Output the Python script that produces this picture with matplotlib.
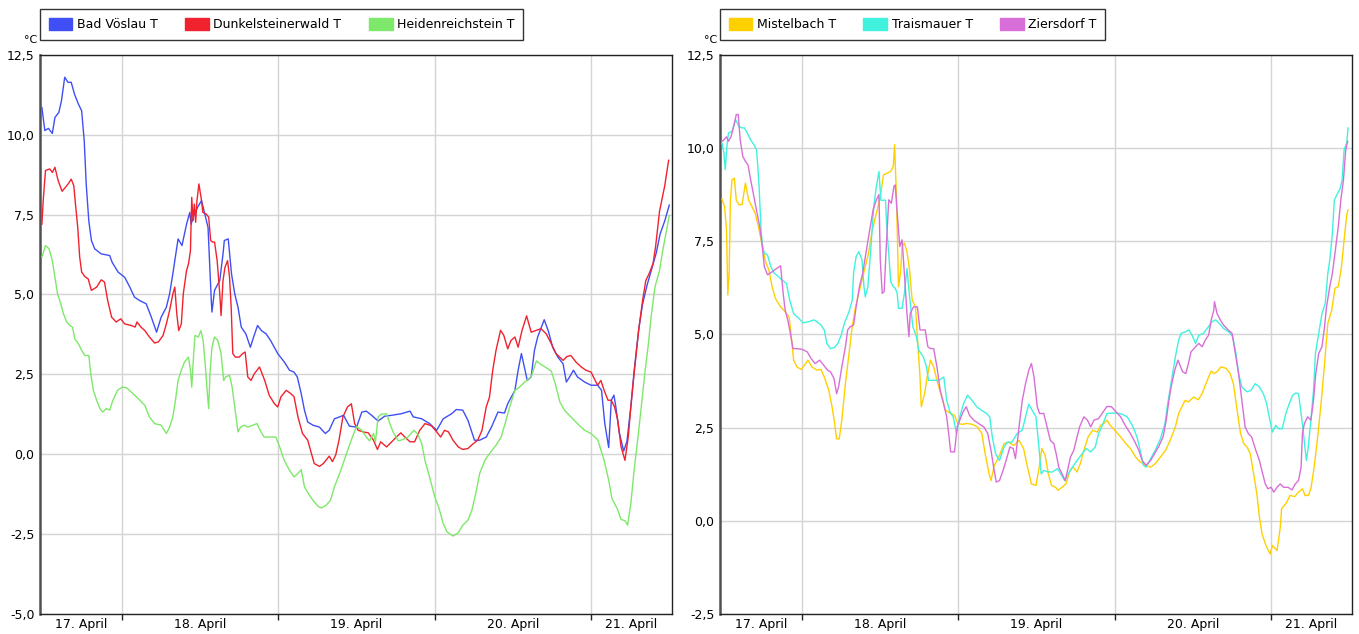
import matplotlib
matplotlib.use('Agg')
import matplotlib.pyplot as plt
from matplotlib.patches import Patch
from matplotlib.ticker import FixedLocator, FuncFormatter

# Stunden ab 17. April 00:00, Temperatur in °C
voeslau_h = [11.7, 12.15, 12.7, 13.3, 13.7, 14.3, 14.7, 15.2, 15.7, 16.2, 16.7, 17.3, 17.8, 18.2, 18.5,
             18.9, 19.3, 19.8, 20.8, 22.1, 22.5, 23.4, 24.4, 25.2, 25.9, 26.7, 27.7, 28.5, 29.3, 30.0,
             30.8, 31.3, 31.8, 32.6, 33.2, 33.9, 34.4, 34.6, 35.1, 35.6, 36.2, 36.7, 37.2, 37.7, 37.8,
             38.2, 39.0, 39.5, 39.7, 40.3, 40.8, 41.3, 41.8, 42.3, 43.0, 43.7, 44.2, 44.8, 45.4, 46.1,
             46.8, 47.9, 48.9, 49.7, 50.4, 50.9, 51.5, 52.0, 52.5, 53.3, 54.3, 55.2, 55.8, 56.6, 57.4,
             58.0, 58.9, 60.0, 60.8, 61.5, 62.3, 63.3, 64.3, 65.4, 66.9, 68.2, 68.7, 70.0, 71.2, 72.3,
             73.3, 74.6, 75.3, 76.3, 77.1, 78.1, 78.9, 79.9, 80.7, 81.7, 82.7, 83.2, 84.3, 84.8, 85.3,
             86.2, 86.8, 87.3, 87.8, 88.8, 89.4, 90.1, 90.9, 91.7, 92.2, 92.7, 93.3, 93.9, 95.0, 96.0,
             97.0, 97.6, 98.1, 98.7, 99.1, 99.5, 99.8, 100.3, 101.0, 101.5, 102.1, 102.6, 103.3, 103.9,
             104.6, 105.3, 106.0, 106.6, 107.3, 108.0]
voeslau_t = [10.85, 10.13, 10.2, 10.04, 10.54, 10.7, 11.06, 11.8, 11.64, 11.64, 11.27, 10.96, 10.75, 9.8, 8.46,
             7.3, 6.69, 6.43, 6.27, 6.22, 6.0, 5.7, 5.54, 5.23, 4.92, 4.81, 4.71, 4.29, 3.82, 4.29,
             4.6, 5.02, 5.65, 6.74, 6.53, 7.2, 7.57, 7.2, 7.52, 7.73, 7.94, 7.52, 7.1, 4.81, 4.45,
             5.13, 5.44, 6.27, 6.69, 6.74, 5.65, 5.02, 4.6, 3.98, 3.77, 3.35, 3.67, 4.03, 3.87, 3.77,
             3.56, 3.15, 2.89, 2.63, 2.57, 2.42, 1.9, 1.38, 1.01, 0.91, 0.85, 0.65, 0.75, 1.11, 1.17,
             1.22, 0.88, 0.85, 1.32, 1.35, 1.22, 1.04, 1.19, 1.22, 1.27, 1.35, 1.17, 1.11, 0.96, 0.75,
             1.11, 1.27, 1.4, 1.38, 1.06, 0.44, 0.44, 0.54, 0.85, 1.32, 1.29, 1.58, 2.0, 2.63, 3.15,
             2.31, 2.42, 3.25, 3.67, 4.21, 3.88, 3.35, 3.04, 2.83, 2.26, 2.42, 2.63, 2.42, 2.26, 2.16,
             2.16, 2.0, 0.96, 0.21, 1.69, 1.85, 1.48, 0.7, 0.1, 0.4, 1.5, 2.6, 3.9, 4.7,
             5.3, 5.8, 6.3, 6.9, 7.3, 7.8]

dunkelstein_h = [11.7, 11.9, 12.25, 12.9, 13.3, 13.7, 14.2, 14.8, 15.3, 15.8, 16.2, 16.6, 16.85, 17.2, 17.5,
                 17.8, 18.3, 18.8, 19.3, 20.1, 20.8, 21.3, 21.8, 22.4, 23.1, 23.8, 24.4, 25.4, 26.0, 26.3,
                 26.9, 27.5, 28.2, 29.0, 29.6, 30.3, 30.8, 31.3, 31.8, 32.1, 32.4, 32.7, 33.1, 33.4, 33.9,
                 34.2, 34.5, 34.7, 34.9, 35.1, 35.3, 35.5, 35.8, 36.2, 36.4, 36.9, 37.3, 37.6, 37.9, 38.2,
                 38.6, 39.0, 39.2, 39.5, 39.8, 40.2, 40.5, 40.75, 41.0, 41.4, 42.0, 42.5, 42.9, 43.3, 43.8,
                 44.3, 45.1, 45.9, 46.6, 47.4, 47.9, 48.4, 49.2, 49.9, 50.4, 51.0, 51.7, 52.5, 53.0, 53.5,
                 54.3, 54.9, 55.8, 56.3, 56.8, 57.3, 57.9, 58.6, 59.2, 59.7, 60.25, 61.0, 61.8, 62.6, 63.2,
                 63.7, 64.6, 65.4, 66.1, 66.8, 67.4, 68.2, 68.9, 69.7, 70.5, 71.5, 72.3, 72.9, 73.5, 74.1,
                 74.8, 75.6, 76.3, 77.1, 77.9, 78.6, 79.25, 79.9, 80.4, 80.9, 81.4, 82.1, 82.6, 83.2, 83.7,
                 84.3, 84.8, 85.4, 86.1, 86.8, 87.6, 88.3, 89.1, 89.9, 90.6, 91.7, 92.3, 92.9, 93.7, 94.5,
                 95.2, 96.0, 96.5, 97.0, 97.5, 98.0, 98.6, 99.1, 99.6, 100.1, 100.6, 101.2, 101.7, 102.1,
                 102.6, 103.3, 103.9, 104.4, 104.9, 105.5, 105.9, 106.5, 107.3, 107.9]
dunkelstein_t = [7.2, 7.94, 8.88, 8.93, 8.82, 8.98, 8.56, 8.23, 8.35, 8.48, 8.61, 8.4, 7.83, 7.1, 6.17,
                 5.7, 5.56, 5.49, 5.13, 5.23, 5.46, 5.39, 4.81, 4.29, 4.14, 4.24, 4.08, 4.03, 3.98, 4.14,
                 3.98, 3.87, 3.67, 3.48, 3.52, 3.72, 4.08, 4.5, 5.02, 5.23, 4.4, 3.87, 4.08, 5.02, 5.75,
                 5.96, 6.37, 8.04, 7.31, 7.83, 7.26, 7.94, 8.46, 7.94, 7.57, 7.52, 7.42, 6.69, 6.64, 6.64,
                 6.06, 5.02, 4.34, 5.44, 5.85, 6.06, 5.54, 4.6, 3.15, 3.04, 3.04, 3.15, 3.2, 2.42, 2.31,
                 2.52, 2.73, 2.31, 1.84, 1.58, 1.48, 1.8, 2.0, 1.9, 1.8, 1.17, 0.65, 0.44, 0.07, -0.29,
                 -0.38, -0.29, -0.06, -0.23, -0.02, 0.44, 1.17, 1.48, 1.58, 0.96, 0.75, 0.7, 0.67, 0.44, 0.15,
                 0.39, 0.23, 0.39, 0.54, 0.67, 0.54, 0.39, 0.39, 0.75, 0.96, 0.89, 0.7, 0.54, 0.75, 0.7,
                 0.44, 0.23, 0.15, 0.18, 0.33, 0.44, 0.75, 1.48, 1.79, 2.63, 3.25, 3.88, 3.72, 3.3, 3.56,
                 3.67, 3.35, 3.88, 4.33, 3.82, 3.88, 3.93, 3.77, 3.46, 3.15, 2.94, 3.06, 3.09, 2.88, 2.73,
                 2.63, 2.57, 2.36, 2.16, 2.31, 2.0, 1.69, 1.69, 1.48, 1.06, 0.23, -0.19, 0.54, 1.48,
                 2.52, 3.88, 4.81, 5.44, 5.65, 5.96, 6.5, 7.6, 8.4, 9.2]

heidenreich_h = [11.7, 12.25, 12.8, 13.3, 13.7, 14.1, 14.6, 15.0, 15.5, 16.0, 16.4, 16.75, 17.3, 17.8, 18.3,
                 18.9, 19.2, 19.6, 20.1, 20.6, 21.0, 21.6, 22.1, 22.6, 23.3, 24.0, 24.7, 25.4, 26.5, 27.5,
                 28.2, 29.0, 30.0, 30.8, 31.3, 31.8, 32.2, 32.6, 33.1, 33.6, 34.2, 34.5, 34.7, 35.0, 35.2,
                 35.7, 36.1, 36.45, 36.8, 37.1, 37.3, 37.5, 37.8, 38.2, 38.7, 39.2, 39.6, 39.9, 40.5, 40.9,
                 41.3, 41.8, 42.2, 42.8, 43.3, 44.1, 44.7, 45.2, 45.8, 46.6, 47.6, 48.2, 48.9, 49.7, 50.4,
                 51.0, 51.5, 52.0, 52.6, 53.3, 54.1, 54.6, 55.3, 56.0, 56.6, 57.4, 58.1, 58.9, 59.4, 60.0,
                 60.8, 61.5, 62.0, 62.6, 62.9, 63.3, 63.8, 64.6, 65.1, 65.6, 66.4, 67.1, 67.9, 68.8, 69.4,
                 70.0, 70.5, 71.2, 72.0, 72.6, 73.3, 73.9, 74.8, 75.6, 76.3, 77.1, 77.7, 78.4, 78.9, 79.7,
                 80.4, 81.4, 82.2, 82.8, 83.5, 84.3, 85.0, 85.8, 86.8, 87.6, 88.3, 89.1, 89.9, 90.5, 91.2,
                 91.9, 92.9, 94.0, 95.0, 96.0, 97.0, 98.0, 98.7, 99.2, 100.0, 100.6, 101.2, 101.6, 102.1,
                 102.6, 103.2, 103.8, 104.3, 104.8, 105.2, 105.8, 106.5, 107.0, 108.0]
heidenreich_t = [6.17, 6.53, 6.43, 6.06, 5.54, 5.02, 4.71, 4.4, 4.14, 4.03, 3.98, 3.61, 3.46, 3.25, 3.09,
                 3.09, 2.52, 2.0, 1.69, 1.43, 1.32, 1.43, 1.38, 1.69, 2.0, 2.1, 2.08, 1.95, 1.74, 1.53,
                 1.17, 0.96, 0.91, 0.65, 0.85, 1.17, 1.69, 2.31, 2.63, 2.89, 3.04, 2.63, 2.1, 3.15, 3.72,
                 3.67, 3.87, 3.56, 2.73, 1.9, 1.43, 2.52, 3.35, 3.67, 3.56, 3.15, 2.31, 2.42, 2.47, 2.1,
                 1.48, 0.7, 0.85, 0.91, 0.85, 0.91, 0.96, 0.75, 0.54, 0.54, 0.54, 0.23, -0.19, -0.5, -0.71,
                 -0.6, -0.48, -1.02, -1.23, -1.44, -1.63, -1.68, -1.6, -1.44, -1.02, -0.6, -0.19, 0.28, 0.56, 0.87,
                 0.75, 0.54, 0.42, 0.65, 0.39, 1.17, 1.25, 1.27, 0.96, 0.7, 0.42, 0.46, 0.54, 0.75, 0.63,
                 0.33, -0.19, -0.71, -1.33, -1.65, -2.17, -2.43, -2.56, -2.46, -2.22, -2.06, -1.75, -1.13, -0.6, -0.19,
                 0.02, 0.28, 0.54, 0.96, 1.48, 2.0, 2.1, 2.26, 2.42, 2.92, 2.81, 2.71, 2.6, 2.21, 1.64,
                 1.38, 1.17, 0.94, 0.75, 0.65, 0.46, -0.19, -0.81, -1.39, -1.7, -2.04, -2.08, -2.22, -1.54,
                 -0.5, 0.54, 1.69, 2.63, 3.46, 4.29, 5.23, 5.75, 6.38, 7.47]

mistelbach_h = [11.7, 12.1, 12.4, 12.6, 12.8, 13.0, 13.25, 13.6, 13.9, 14.3, 14.8, 15.3, 15.8, 16.3, 16.8,
                17.3, 17.9, 18.4, 18.9, 19.4, 19.9, 20.7, 21.4, 22.0, 22.3, 22.7, 23.2, 23.85, 24.4, 24.9,
                25.5, 26.3, 26.9, 27.4, 28.1, 28.6, 29.0, 29.3, 29.7, 30.1, 30.65, 31.2, 31.7, 32.2, 32.7,
                33.2, 33.7, 34.2, 34.7, 35.4, 36.0, 36.5, 37.1, 37.6, 38.0, 38.2, 38.5, 38.8, 39.1, 39.35,
                39.7, 40.1, 40.5, 40.9, 41.4, 41.8, 42.1, 42.3, 42.8, 43.2, 43.7, 44.2, 44.7, 45.3, 46.0,
                46.8, 47.4, 47.9, 48.6, 49.3, 50.1, 50.9, 51.6, 52.1, 52.7, 53.0, 53.5, 54.2, 55.0, 55.7,
                56.5, 57.3, 58.0, 58.6, 59.2, 59.9, 60.4, 60.8, 61.3, 61.8, 62.3, 62.9, 63.3, 63.9, 64.5,
                65.1, 65.6, 66.2, 66.7, 67.25, 67.9, 68.6, 69.3, 69.8, 70.3, 70.8, 71.3, 72.0, 72.9, 73.7,
                74.4, 75.2, 75.9, 76.7, 77.5, 78.2, 79.0, 79.8, 80.5, 81.3, 81.8, 82.3, 82.8, 83.3, 84.1,
                84.8, 85.4, 85.9, 86.4, 86.8, 87.2, 87.7, 88.3, 89.1, 89.7, 90.2, 90.7, 91.3, 91.8, 92.3,
                92.8, 93.3, 93.8, 94.2, 94.6, 95.2, 95.85, 96.2, 96.9, 97.4, 97.6, 98.4, 98.9, 99.6, 100.2,
                100.8, 101.2, 101.7, 102.1, 102.6, 103.2, 103.7, 104.2, 104.7, 105.3, 105.8, 106.3, 106.8,
                107.2, 107.6, 107.8]
mistelbach_t = [8.63, 8.43, 7.8, 6.06, 6.64, 8.6, 9.15, 9.19, 8.6, 8.48, 8.48, 9.06, 8.6, 8.43, 8.25,
                7.89, 7.36, 6.95, 6.73, 6.28, 5.97, 5.74, 5.61, 5.47, 5.03, 4.31, 4.13, 4.06, 4.18, 4.31,
                4.13, 4.04, 4.06, 3.86, 3.5, 3.06, 2.61, 2.2, 2.2, 2.7, 3.68, 4.49, 5.21, 5.74, 6.1,
                6.46, 6.82, 7.18, 7.72, 8.25, 8.7, 9.28, 9.33, 9.37, 9.51, 10.09, 8.6, 6.28, 6.64, 7.36,
                7.45, 7.22, 6.73, 5.92, 5.74, 4.67, 3.86, 3.06, 3.41, 3.86, 4.31, 4.13, 3.77, 3.41, 2.97,
                2.88, 2.83, 2.61, 2.59, 2.61, 2.59, 2.52, 2.34, 1.8, 1.26, 1.08, 1.49, 1.71, 2.07, 2.11,
                2.02, 2.16, 1.94, 1.44, 0.99, 0.95, 1.44, 1.94, 1.76, 1.26, 0.95, 0.9, 0.82, 0.9, 0.99,
                1.35, 1.44, 1.31, 1.53, 1.89, 2.25, 2.43, 2.38, 2.56, 2.61, 2.7, 2.56, 2.43, 2.25, 2.07,
                1.94, 1.71, 1.58, 1.49, 1.44, 1.53, 1.71, 1.89, 2.16, 2.52, 2.88, 3.06, 3.23, 3.19, 3.32,
                3.25, 3.41, 3.64, 3.86, 4.02, 3.95, 4.0, 4.13, 4.09, 3.95, 3.68, 3.06, 2.34, 2.07, 1.98,
                1.8, 1.26, 0.73, 0.1, -0.35, -0.66, -0.89, -0.66, -0.8, -0.18, 0.32, 0.5, 0.68, 0.65, 0.77,
                0.86, 0.68, 0.68, 0.86, 1.44, 2.34, 3.23, 4.22, 5.3, 5.65, 6.24, 6.28, 6.82,
                7.54, 8.21, 8.34]

traismauer_h = [11.7, 12.0, 12.2, 12.5, 12.7, 13.25, 13.8, 14.3, 14.8, 15.15, 15.6, 16.1, 16.6, 17.0, 17.2,
                17.4, 17.7, 17.95, 18.2, 18.7, 19.2, 19.75, 20.4, 20.9, 21.6, 22.1, 22.7, 23.5, 24.15, 25.0,
                25.8, 26.3, 26.9, 27.4, 27.8, 28.35, 28.96, 29.5, 30.0, 30.5, 31.2, 31.7, 31.9, 32.3, 32.7,
                33.2, 33.5, 33.7, 34.1, 34.5, 35.0, 35.4, 35.8, 36.1, 36.5, 36.8, 37.05, 37.3, 37.6, 38.0,
                38.3, 38.6, 38.8, 39.35, 39.7, 40.1, 40.5, 41.0, 41.55, 41.9, 42.6, 43.1, 43.4, 44.2, 45.0,
                45.75, 46.2, 46.7, 47.2, 47.7, 48.2, 48.8, 49.4, 50.1, 50.8, 51.5, 52.3, 52.8, 53.2, 53.7,
                54.3, 55.0, 55.5, 56.2, 57.0, 57.8, 58.3, 58.8, 59.3, 59.9, 60.4, 60.7, 61.1, 61.8, 62.4,
                63.2, 63.7, 64.3, 64.85, 65.5, 66.2, 67.0, 67.6, 68.3, 69.0, 69.5, 70.2, 70.8, 71.6, 72.4,
                73.1, 73.9, 74.7, 75.4, 75.9, 76.4, 76.8, 77.5, 78.2, 79.0, 79.7, 80.2, 80.7, 81.3, 81.8,
                82.2, 82.8, 83.4, 83.85, 84.4, 84.9, 85.6, 86.4, 86.9, 87.5, 88.0, 88.7, 89.5, 90.1, 90.6,
                91.0, 91.5, 92.3, 92.9, 93.55, 94.2, 94.8, 95.3, 95.7, 96.2, 96.7, 97.2, 97.7, 98.25, 98.8,
                99.3, 99.8, 100.2, 100.6, 100.96, 101.4, 101.7, 102.1, 102.5, 102.8, 103.3, 103.8, 104.3,
                104.7, 105.0, 105.4, 105.7, 106.1, 106.6, 106.9, 107.2, 107.6, 107.8]
traismauer_t = [10.13, 9.87, 9.42, 10.13, 10.4, 10.45, 10.76, 10.58, 10.54, 10.54, 10.4, 10.22, 10.09, 9.96, 9.51,
                8.97, 7.8, 7.36, 7.18, 7.13, 6.82, 6.64, 6.55, 6.46, 6.37, 5.92, 5.56, 5.43, 5.31, 5.34,
                5.39, 5.34, 5.25, 5.12, 4.76, 4.62, 4.65, 4.76, 4.98, 5.3, 5.61, 5.92, 6.64, 7.09, 7.22,
                7.0, 6.28, 6.01, 6.28, 7.18, 8.43, 8.97, 9.37, 8.6, 8.6, 8.6, 7.72, 7.18, 6.42, 6.28,
                6.24, 6.1, 5.7, 5.7, 6.1, 6.77, 6.01, 5.21, 4.94, 4.58, 4.4, 4.13, 3.77, 3.77, 3.77,
                3.86, 3.23, 2.92, 2.79, 2.34, 2.79, 3.15, 3.37, 3.23, 3.06, 2.97, 2.88, 2.79, 2.25, 1.8,
                1.62, 1.98, 2.11, 2.11, 2.34, 2.43, 2.79, 3.13, 2.97, 2.79, 1.89, 1.26, 1.35, 1.31, 1.31,
                1.4, 1.26, 1.08, 1.26, 1.44, 1.62, 1.8, 1.94, 1.85, 1.98, 2.34, 2.61, 2.88, 2.89, 2.89,
                2.86, 2.79, 2.56, 2.25, 1.89, 1.49, 1.44, 1.67, 1.89, 2.2, 2.61, 3.23, 3.77, 4.4, 4.85,
                5.03, 5.07, 5.12, 4.98, 4.76, 4.98, 5.03, 5.21, 5.34, 5.39, 5.3, 5.16, 5.07, 4.94, 4.49,
                3.95, 3.59, 3.46, 3.5, 3.68, 3.59, 3.41, 3.15, 2.79, 2.38, 2.56, 2.47, 2.47, 2.88, 3.15,
                3.37, 3.43, 3.41, 2.88, 2.34, 1.62, 1.98, 2.7, 3.5, 4.49, 5.03, 5.56, 5.83,
                6.64, 7.0, 7.72, 8.61, 8.75, 8.92, 9.15, 9.96, 10.13, 10.54]

ziersdorf_h = [11.7, 12.0, 12.4, 12.7, 13.1, 13.5, 13.9, 14.2, 14.5, 14.9, 15.3, 15.7, 16.1, 16.6, 17.1,
               17.5, 17.9, 18.2, 18.7, 19.4, 20.1, 20.7, 21.1, 21.4, 21.8, 22.2, 22.6, 23.2, 24.0, 24.8,
               25.4, 26.0, 26.7, 27.3, 27.9, 28.35, 28.9, 29.3, 29.6, 30.1, 30.65, 31.0, 31.4, 31.9, 32.3,
               32.8, 33.3, 33.8, 34.3, 34.9, 35.4, 35.8, 36.0, 36.3, 36.6, 36.9, 37.3, 37.7, 38.1, 38.3,
               38.6, 39.0, 39.35, 39.7, 40.1, 40.4, 40.6, 41.1, 41.7, 42.1, 42.4, 42.9, 43.3, 43.7, 44.2,
               44.7, 45.2, 45.6, 46.2, 46.5, 46.8, 47.4, 47.8, 48.2, 48.7, 49.2, 49.7, 50.35, 51.1, 51.9,
               52.5, 53.0, 53.4, 53.8, 54.3, 54.85, 55.4, 55.9, 56.4, 56.75, 57.3, 57.8, 58.3, 58.8, 59.2,
               59.6, 60.1, 60.45, 61.1, 61.6, 62.1, 62.65, 63.0, 63.4, 63.9, 64.4, 64.85, 65.2, 65.7, 66.2,
               66.6, 67.25, 67.8, 68.3, 68.8, 69.5, 70.2, 70.8, 71.5, 72.2, 72.9, 73.6, 74.4, 75.1, 75.7,
               76.2, 76.8, 77.5, 78.1, 78.7, 79.4, 79.9, 80.3, 80.7, 81.2, 81.7, 82.1, 82.4, 82.9, 83.3,
               83.7, 84.4, 84.9, 85.4, 85.9, 86.4, 86.8, 87.2, 87.3, 87.7, 88.2, 88.7, 89.4, 90.0, 90.5,
               91.0, 91.5, 92.0, 92.5, 93.0, 93.65, 94.2, 94.7, 95.1, 95.5, 96.0, 96.4, 96.9, 97.4, 97.9,
               98.6, 99.2, 99.7, 100.2, 100.6, 100.8, 101.1, 101.6, 102.1, 102.5, 102.85, 103.3, 103.8,
               104.2, 104.5, 105.0, 105.4, 105.8, 106.3, 106.7, 107.1, 107.45, 107.75]
ziersdorf_t = [10.18, 10.22, 10.3, 10.18, 10.31, 10.58, 10.9, 10.9, 10.22, 9.78, 9.64, 9.55, 9.15, 8.7, 8.25,
               7.89, 7.36, 6.82, 6.6, 6.68, 6.77, 6.84, 6.1, 5.65, 5.39, 5.03, 4.62, 4.62, 4.6, 4.53,
               4.35, 4.22, 4.31, 4.18, 4.04, 4.0, 3.82, 3.41, 3.59, 4.13, 4.67, 5.12, 5.21, 5.25, 5.74,
               6.28, 6.64, 7.18, 7.72, 8.34, 8.61, 8.75, 7.0, 6.1, 6.15, 7.27, 8.61, 8.52, 8.97, 9.01,
               8.25, 7.36, 7.54, 6.64, 5.56, 4.94, 5.56, 5.74, 5.74, 5.12, 5.12, 5.12, 4.67, 4.62, 4.62,
               4.13, 3.5, 3.23, 2.79, 2.34, 1.85, 1.85, 2.52, 2.7, 2.92, 3.06, 2.83, 2.7, 2.61, 2.52,
               2.34, 1.89, 1.44, 1.04, 1.08, 1.35, 1.67, 1.98, 1.94, 1.67, 2.52, 3.23, 3.68, 4.04, 4.22,
               3.86, 3.06, 2.88, 2.88, 2.52, 2.16, 2.07, 1.8, 1.44, 1.26, 1.08, 1.44, 1.71, 1.89, 2.25,
               2.52, 2.79, 2.7, 2.52, 2.7, 2.74, 2.92, 3.07, 3.06, 2.92, 2.79, 2.56, 2.34, 2.11, 1.89,
               1.62, 1.49, 1.62, 1.8, 1.98, 2.25, 2.7, 3.23, 3.64, 4.04, 4.31, 4.13, 4.0, 3.95, 4.22,
               4.53, 4.67, 4.76, 4.67, 4.85, 4.98, 5.39, 5.65, 5.88, 5.56, 5.39, 5.25, 5.12, 5.03, 4.49,
               3.95, 3.23, 2.52, 2.34, 2.25, 1.89, 1.62, 1.26, 0.99, 0.86, 0.9, 0.77, 0.9, 0.99, 0.9,
               0.9, 0.83, 0.99, 1.08, 1.44, 2.34, 2.61, 2.79, 2.7, 3.23, 3.95, 4.49, 4.67,
               5.21, 5.74, 6.28, 6.64, 7.18, 7.89, 8.61, 9.15, 9.96, 10.18]

day_names = ['17. April', '18. April', '19. April', '20. April', '21. April']
day_bounds = [24, 48, 72, 96]
t_start, t_end = 11.4, 108.4

left_series = [('Bad Vöslau T', '#3f4ff5', voeslau_h, voeslau_t),
               ('Dunkelsteinerwald T', '#f0222e', dunkelstein_h, dunkelstein_t),
               ('Heidenreichstein T', '#7ee86a', heidenreich_h, heidenreich_t)]
right_series = [('Mistelbach T', '#ffd000', mistelbach_h, mistelbach_t),
                ('Traismauer T', '#40f2de', traismauer_h, traismauer_t),
                ('Ziersdorf T', '#d86fd8', ziersdorf_h, ziersdorf_t)]


def komma(v, pos):
    return ('%.1f' % v).replace('.', ',')


def draw_panel(ax, series, ymin, ymax):
    for name, col, h, t in series:
        ax.plot(h, t, color=col, lw=1.0, zorder=3)
    ax.set_xlim(t_start, t_end)
    ax.set_ylim(ymin, ymax)

    yt = [ymin + 2.5 * i for i in range(int(round((ymax - ymin) / 2.5)) + 1)]
    ax.yaxis.set_major_locator(FixedLocator(yt))
    ax.yaxis.set_major_formatter(FuncFormatter(komma))
    ax.tick_params(axis='y', length=0, pad=4, labelsize=9)

    # Tagesgrenzen als Hauptticks, Tagesnamen mittig dazwischen
    edges = [t_start] + day_bounds + [t_end]
    mids = [(edges[i] + edges[i + 1]) / 2 for i in range(len(edges) - 1)]
    ax.xaxis.set_major_locator(FixedLocator(day_bounds))
    ax.xaxis.set_major_formatter(FuncFormatter(lambda v, p: ''))
    ax.set_xticks(mids, day_names, minor=True)
    ax.tick_params(axis='x', which='major', length=4, width=1, color='#222222', direction='out')
    ax.tick_params(axis='x', which='minor', length=0, pad=3, labelsize=9)

    ax.grid(True, which='major', color='#d4d4d4', lw=1.0, zorder=0)
    for side in ['top', 'right', 'bottom']:
        ax.spines[side].set_color('#222222')
        ax.spines[side].set_linewidth(1.0)
    ax.spines['left'].set_color('#505050')
    ax.spines['left'].set_linewidth(1.8)

    ax.text(-0.004, 1.018, '°C', transform=ax.transAxes, ha='right', va='bottom', fontsize=8)

    handles = [Patch(facecolor=c, edgecolor=c) for _, c, _, _ in series]
    leg = ax.legend(handles, [s[0] for s in series], ncol=3, loc='lower left',
                    bbox_to_anchor=(0.0, 1.027), borderaxespad=0, fontsize=9,
                    handlelength=1.9, handleheight=1.1, handletextpad=0.35,
                    columnspacing=2.2, borderpad=0.7, frameon=True, fancybox=False)
    leg.get_frame().set_edgecolor('black')
    leg.get_frame().set_linewidth(1.0)


fig = plt.figure(figsize=(13.59, 6.34), dpi=100)
ax1 = fig.add_axes([0.0294, 0.0315, 0.465, 0.882])
ax2 = fig.add_axes([0.5298, 0.0315, 0.465, 0.882])

draw_panel(ax1, left_series, -5.0, 12.5)
draw_panel(ax2, right_series, -2.5, 12.5)

fig.savefig('out.png', dpi=100)
